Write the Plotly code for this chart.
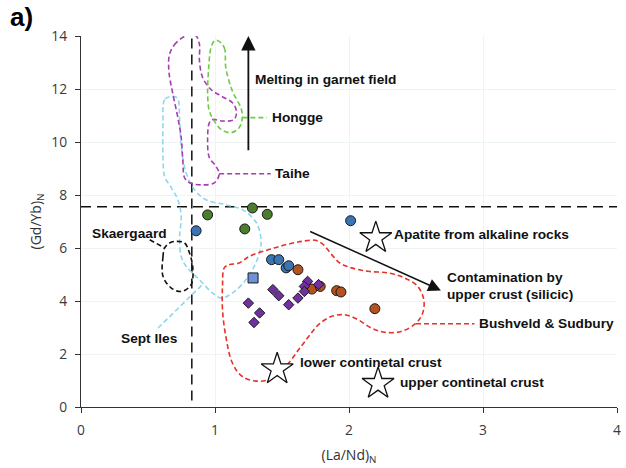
import plotly.graph_objects as go

# ---------------- data ----------------
green_x = [0.945, 1.279, 1.39, 1.222]
green_y = [7.25, 7.51, 7.27, 6.72]
blue_x = [0.859, 2.012, 1.422, 1.476, 1.531, 1.55]
blue_y = [6.65, 7.03, 5.56, 5.56, 5.25, 5.33]
orange_x = [1.619, 1.723, 1.785, 1.908, 1.94, 2.193]
orange_y = [5.18, 4.45, 4.55, 4.39, 4.34, 3.71]
square_x = [1.284]
square_y = [4.87]
purple_x = [1.691, 1.667, 1.667, 1.773, 1.432, 1.476, 1.619, 1.55, 1.249, 1.333, 1.291]
purple_y = [4.74, 4.55, 4.36, 4.62, 4.43, 4.20, 4.11, 3.86, 3.92, 3.55, 3.19]

star_x = [2.20, 1.464, 2.217]
star_y = [6.38, 1.43, 0.88]

# field outlines (data units)
taihe_x = [0.810, 0.711, 0.661, 0.656, 0.686, 0.723, 0.748, 0.760, 0.773, 0.810, 0.908, 0.995,
           1.031, 1.007, 0.958, 0.945, 0.958, 0.982, 1.056, 1.143, 1.160, 1.130, 1.044, 0.970,
           0.908, 0.884, 0.884, 0.859, 0.810]
taihe_y = [14.06, 13.75, 13.31, 12.68, 11.80, 10.92, 10.16, 9.28, 8.65, 8.46, 8.38, 8.46,
           8.78, 9.09, 9.41, 10.16, 10.73, 10.85, 10.79, 10.85, 11.17, 11.48, 11.74, 11.98,
           12.43, 13.06, 13.68, 14.0, 14.06]
taihe_link_x = [1.031, 1.416]
taihe_link_y = [8.80, 8.80]

hongge_x = [1.019, 1.069, 1.081, 1.130, 1.193, 1.204, 1.180, 1.119, 1.044, 0.995, 0.958, 0.945,
            0.953, 0.970, 0.995, 1.019]
hongge_y = [13.83, 13.56, 12.80, 11.92, 11.29, 10.92, 10.54, 10.35, 10.48, 10.79, 11.17, 11.80,
            12.80, 13.56, 13.81, 13.83]
hongge_link_x = [1.204, 1.387]
hongge_link_y = [10.92, 10.92]

septiles_x = [0.674, 0.624, 0.612, 0.612, 0.624, 0.674, 0.723, 0.748, 0.736, 0.748, 0.785, 0.884,
              0.982, 1.047, 1.130, 1.230, 1.304, 1.341, 1.341, 1.304, 1.204, 1.081, 0.933, 0.847,
              0.785, 0.748, 0.736, 0.719, 0.674]
septiles_y = [11.72, 11.60, 10.72, 9.46, 8.70, 8.28, 7.82, 7.19, 6.44, 5.68, 5.31, 4.80,
              4.30, 4.11, 4.30, 4.80, 5.43, 6.01, 6.44, 6.99, 7.45, 7.63, 7.82, 8.20,
              8.83, 9.83, 10.84, 11.66, 11.72]
septiles_link_x = [0.575, 0.906]
septiles_link_y = [2.98, 4.62]

skaer_x = [0.624, 0.612, 0.612, 0.674, 0.750, 0.822, 0.834, 0.810, 0.773, 0.711, 0.661, 0.624]
skaer_y = [6.0, 5.68, 4.93, 4.49, 4.36, 4.62, 5.26, 5.81, 6.19, 6.25, 6.19, 6.0]
skaer_link_x = [0.513, 0.624]
skaer_link_y = [6.31, 6.0]

bush_x = [1.069, 1.106, 1.180, 1.254, 1.402, 1.526, 1.649, 1.748, 1.810, 1.871, 1.933, 2.019,
          2.143, 2.291, 2.415, 2.513, 2.558, 2.550, 2.501, 2.390, 2.267, 2.167, 2.069, 1.970,
          1.871, 1.773, 1.699, 1.624, 1.550, 1.452, 1.328, 1.204, 1.130, 1.081, 1.056, 1.056,
          1.069]
bush_y = [5.25, 5.37, 5.43, 5.68, 5.94, 6.12, 6.25, 6.29, 6.12, 5.75, 5.43, 5.25,
          5.12, 5.06, 4.87, 4.55, 4.05, 3.55, 3.17, 2.85, 2.82, 2.98, 3.29, 3.48,
          3.42, 3.11, 2.66, 2.16, 1.66, 1.15, 0.97, 1.15, 1.66, 2.66, 3.67, 4.55,
          5.25]
bush_link_x = [2.50, 2.936]
bush_link_y = [3.14, 3.14]

ref_h_y = 7.56
ref_v_x = 0.827

x_ticks = [0, 1, 2, 3, 4]
y_ticks = [0, 2, 4, 6, 8, 10, 12, 14]

# ---------------- figure ----------------
fig = go.Figure()

def dashed(x, y, color, spline=True, dash="5px,3px", width=1.6):
    fig.add_trace(go.Scatter(
        x=x, y=y, mode="lines", hoverinfo="skip",
        line=dict(color=color, width=width, dash=dash,
                  shape="spline" if spline else "linear", smoothing=1.0)))

# reference dashed lines
dashed([0, 4], [ref_h_y, ref_h_y], "#111111", spline=False, dash="10px,6px", width=1.5)
dashed([ref_v_x, ref_v_x], [0.25, 14.05], "#111111", spline=False, dash="10px,6px", width=1.5)

# field outlines
dashed(septiles_x, septiles_y, "#8fd6ee")
dashed(septiles_link_x, septiles_link_y, "#8fd6ee", spline=False)
dashed(taihe_x, taihe_y, "#a83db3")
dashed(taihe_link_x, taihe_link_y, "#a83db3", spline=False)
dashed(hongge_x, hongge_y, "#6acb45")
dashed(hongge_link_x, hongge_link_y, "#6acb45", spline=False)
dashed(skaer_x, skaer_y, "#111111")
dashed(skaer_link_x, skaer_link_y, "#111111", spline=False)
dashed(bush_x, bush_y, "#e8312a")
dashed(bush_link_x, bush_link_y, "#e8312a", spline=False)

mk_line = dict(color="#1a1a1a", width=1)
fig.add_trace(go.Scatter(x=green_x, y=green_y, mode="markers",
                         marker=dict(symbol="circle", size=10, color="#4c7c2e", line=mk_line)))
fig.add_trace(go.Scatter(x=blue_x, y=blue_y, mode="markers",
                         marker=dict(symbol="circle", size=10, color="#3b74b2", line=mk_line)))
fig.add_trace(go.Scatter(x=orange_x, y=orange_y, mode="markers",
                         marker=dict(symbol="circle", size=10, color="#b4531f", line=mk_line)))
fig.add_trace(go.Scatter(x=square_x, y=square_y, mode="markers",
                         marker=dict(symbol="square", size=10, color="#6d93d6", line=mk_line)))
fig.add_trace(go.Scatter(x=purple_x, y=purple_y, mode="markers",
                         marker=dict(symbol="diamond", size=8, color="#7030a0", line=mk_line)))
fig.add_trace(go.Scatter(x=star_x, y=star_y, mode="markers",
                         marker=dict(symbol="star", size=24, color="white",
                                     line=dict(color="#111111", width=1.3))))

# arrows
fig.add_annotation(x=1.249, y=14.0, ax=1.249, ay=9.63, xref="x", yref="y", axref="x", ayref="y",
                   text="", showarrow=True, arrowhead=2, arrowsize=1.6, arrowwidth=1.8,
                   arrowcolor="#111111")
fig.add_annotation(x=2.686, y=4.40, ax=1.699, ay=6.65, xref="x", yref="y", axref="x", ayref="y",
                   text="", showarrow=True, arrowhead=2, arrowsize=1.7, arrowwidth=1.5,
                   arrowcolor="#111111")

lab_font = dict(family="Liberation Sans, Arial", size=13.7, color="#111111")
def label(x, y, t, anchor="left"):
    fig.add_annotation(x=x, y=y, xref="x", yref="y", text="<b>%s</b>" % t, showarrow=False,
                       xanchor=anchor, yanchor="middle", font=lab_font)

label(1.284, 12.37, "Melting in garnet field")
label(1.41, 10.92, "Hongge")
label(1.432, 8.80, "Taihe")
label(0.655, 6.53, "Skaergaard", "right")
label(0.513, 2.58, "Sept Iles", "center")
label(2.323, 6.50, "Apatite from alkaline rocks")
label(2.719, 4.87, "Contamination by")
label(2.719, 4.24, "upper crust (silicic)")
label(2.958, 3.14, "Bushveld &amp; Sudbury")
label(1.619, 1.68, "lower continetal crust")
label(2.365, 0.91, "upper continetal crust")

fig.add_annotation(x=-0.137, y=1.05, xref="paper", yref="paper", text="<b>a)</b>",
                   showarrow=False, xanchor="left", yanchor="middle",
                   font=dict(family="Liberation Sans, Arial", size=26, color="#000000"))

axis_common = dict(showline=True, linecolor="#333333", linewidth=1.3, ticks="outside",
                   ticklen=5, tickcolor="#333333", tickwidth=1.2, showgrid=True,
                   gridcolor="#eef3f3", gridwidth=1, zeroline=False,
                   tickfont=dict(family="Open Sans", size=13.8, color="#3a3a3a"))

fig.update_layout(
    width=626, height=468,
    margin=dict(l=81, r=5, t=36, b=61),
    paper_bgcolor="white", plot_bgcolor="white",
    showlegend=False,
    xaxis=dict(range=[0, 4], tickvals=x_ticks, ticktext=[str(v) for v in x_ticks],
               ticklabelstandoff=5,
               title=dict(text="(La/Nd)<sub>N</sub>", standoff=12,
                          font=dict(family="Open Sans", size=14, color="#333333")),
               **axis_common),
    yaxis=dict(range=[0, 14], tickvals=y_ticks, ticktext=[str(v) for v in y_ticks],
               ticklabelstandoff=5,
               title=dict(text="(Gd/Yb)<sub>N</sub>", standoff=6,
                          font=dict(family="Open Sans", size=14, color="#333333")),
               **axis_common),
)

fig.write_html("out.html")
